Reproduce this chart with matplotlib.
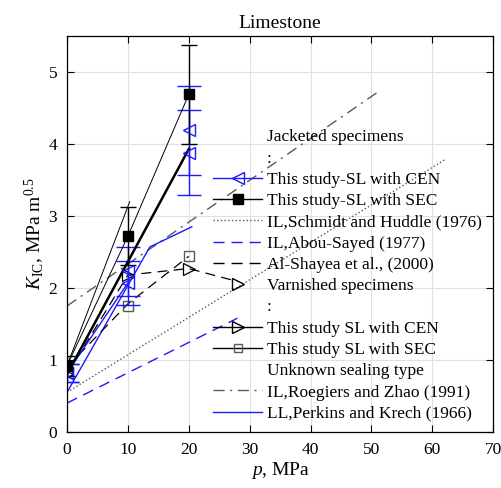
import numpy as np
import matplotlib
matplotlib.use("Agg")
from matplotlib import pyplot as plt
from matplotlib.lines import Line2D

plt.rcParams['font.family'] = ['Liberation Serif', 'DejaVu Serif']
plt.rcParams['mathtext.fontset'] = 'custom'
plt.rcParams['mathtext.rm'] = 'Liberation Serif'
plt.rcParams['mathtext.it'] = 'Liberation Serif:italic'

# jacketed, SEC (filled squares)
p_sec = [0, 10, 20]
k_sec = [0.92, 2.72, 4.69]
e_sec = [0.14, 0.40, 0.69]
# jacketed, CEN (blue left triangles), two test sets
p_cen = [0, 10, 20]
k_cen_a = [0.82, 2.07, 3.88]
e_cen_a = [0.12, 0.31, 0.59]
k_cen_b = [0.82, 2.23, 4.19]
e_cen_b = [0.12, 0.34, 0.62]
# fitted trends of this study
p_fit = [0, 20]
k_fit = [0.80, 3.93]
p_fit2 = [0, 10.3]
k_fit2 = [0.92, 3.20]
# varnished specimens
p_var_cen = [0, 10, 20, 28]
k_var_cen = [0.80, 2.18, 2.27, 2.09]
p_var_sec = [0, 10, 20]
k_var_sec = [0.85, 1.75, 2.44]
# literature
p_schmidt = [0, 62]
k_schmidt = [0.55, 3.78]
p_abou = [0, 28]
k_abou = [0.40, 1.58]
p_shayea = [0, 10, 20]
k_shayea = [0.90, 1.78, 2.44]
p_roeg = [0, 51]
k_roeg = [1.75, 4.72]
p_perk = [0, 13.6, 20.5]
k_perk = [0.55, 2.57, 2.85]

blue = (0.1, 0.1, 1.0)
gray = (0.35, 0.35, 0.35)

fig = plt.figure(figsize=(5.02, 4.88), dpi=100)
ax = fig.add_axes([0.1335, 0.115, 0.849, 0.811])

ax.plot(p_schmidt, k_schmidt, ':', color=gray, lw=1)
ax.plot(p_abou, k_abou, '--', color=blue, lw=1, dashes=(8, 5))
ax.plot(p_roeg, k_roeg, '-.', color=gray, lw=1, dashes=(8, 4, 1.5, 4))
ax.plot(p_perk, k_perk, '-', color=blue, lw=1)
ax.plot(p_shayea, k_shayea, '--', color='k', lw=0.9, dashes=(8, 5))
ax.plot(p_var_sec, k_var_sec, 's', mfc='none', mec=gray, ms=7, mew=1)
ax.plot(p_var_cen, k_var_cen, '>', ls='--', dashes=(8, 5), color='k', mfc='none', ms=9, mew=0.9,
        lw=0.9, markevery=[0, 1, 2])

ax.plot(p_cen[:2], k_cen_a[:2], '-', color=blue, lw=1)
ax.errorbar(p_cen, k_cen_a, yerr=e_cen_a, fmt='<', color=blue, mfc='none', ms=8, mew=1,
            elinewidth=1, capsize=8.5, capthick=1)
ax.errorbar(p_cen, k_cen_b, yerr=e_cen_b, fmt='<', color=blue, mfc='none', ms=8, mew=1,
            elinewidth=1, capsize=8.5, capthick=1)
ax.plot(p_fit2, k_fit2, '-', color='k', lw=0.7)
ax.plot(p_fit, k_fit, '-', color='k', lw=1.8)
ax.errorbar(p_sec, k_sec, yerr=e_sec, fmt='s-', color='k', ms=7, lw=0.7,
            elinewidth=1, capsize=6, capthick=1)

ax.set_xlim(0, 70)
ax.set_ylim(0, 5.5)
ax.set_xticks(np.arange(0, 71, 10))
ax.set_yticks(np.arange(0, 6, 1))
ax.grid(True, color=(0.88, 0.88, 0.88), lw=0.8)
ax.set_axisbelow(True)
ax.tick_params(direction='in', top=True, right=True, labelsize=12.5, length=5, width=0.8, pad=7)
for s in ax.spines.values():
    s.set_linewidth(0.9)

ax.set_title('Limestone', fontsize=14, pad=6)
ax.set_xlabel('$p$, MPa', fontsize=14, labelpad=2)
ax.set_ylabel(r'$K_{\mathrm{IC}}$, MPa m$^{0.5}$', fontsize=14, labelpad=1)

none = Line2D([], [], ls='none')
handles = [
    none, none,
    Line2D([], [], color=blue, marker='<', mfc='none', ms=8, lw=1),
    Line2D([], [], color='k', marker='s', ms=7, lw=1),
    Line2D([], [], color=gray, ls=':', lw=1),
    Line2D([], [], color=blue, ls='--', dashes=(8, 5), lw=1),
    Line2D([], [], color='k', ls='--', dashes=(8, 5), lw=1),
    Line2D([], [], color='k', ls='none', marker='>', mfc='none', ms=9),
    none,
    Line2D([], [], color='k', marker='>', mfc='none', ms=9, lw=1),
    Line2D([], [], color='k', marker='s', mfc='none', mec=gray, ms=6, lw=1),
    none,
    Line2D([], [], color=gray, ls='-.', dashes=(8, 4, 1.5, 4), lw=1),
    Line2D([], [], color=blue, lw=1),
]
labels = [
    'Jacketed specimens', ':',
    'This study-SL with CEN', 'This study-SL with SEC',
    'IL,Schmidt and Huddle (1976)', 'IL,Abou-Sayed (1977)',
    'Al-Shayea et al., (2000)', 'Varnished specimens', ':',
    'This study SL with CEN', 'This study SL with SEC',
    'Unknown sealing type',
    'IL,Roegiers and Zhao (1991)', 'LL,Perkins and Krech (1966)',
]
ax.legend(handles, labels, loc='upper left', bbox_to_anchor=(0.343, 0.765),
          frameon=False, fontsize=12.5, handlelength=2.8, handletextpad=0.3,
          labelspacing=0.295, borderaxespad=0, borderpad=0)

fig.savefig('out.png', dpi=100)
